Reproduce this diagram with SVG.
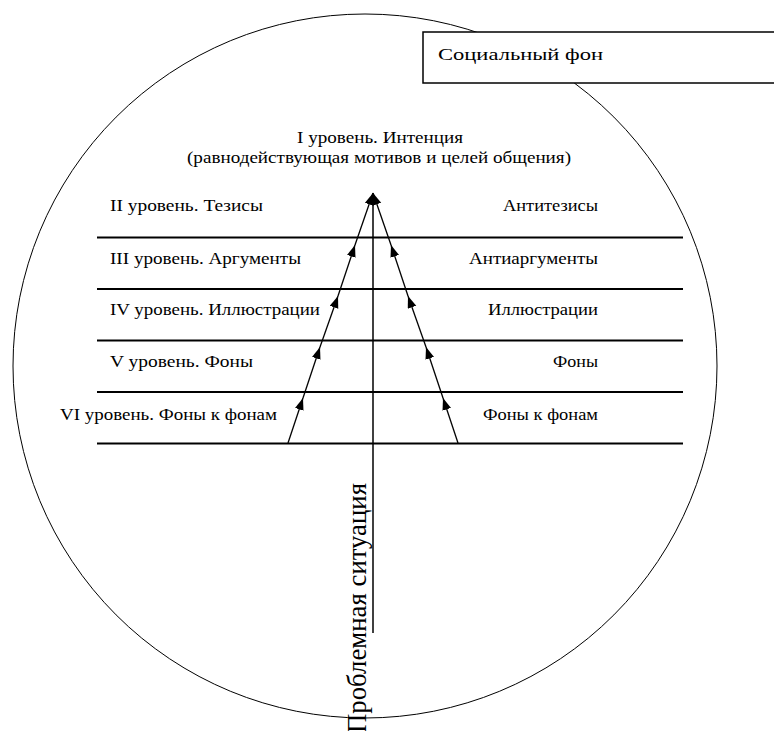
<svg xmlns="http://www.w3.org/2000/svg" width="774" height="731" viewBox="0 0 774 731">
<style>
.t{font-family:"Liberation Serif","Times New Roman",serif;font-size:16px;fill:#000}
.h{stroke:#000;stroke-width:2;fill:none}
.a{stroke:#000;stroke-width:1.3;fill:none;marker-end:url(#ah)}
</style>
<defs>
<marker id="ah" markerUnits="userSpaceOnUse" markerWidth="13" markerHeight="10" refX="12" refY="4.5" orient="auto">
<path d="M0,0 L12,4.5 L0,9 z" fill="#000"/>
</marker>
</defs>
<rect width="774" height="731" fill="#fff"/>
<g id="background">
<circle cx="365" cy="366" r="352" fill="none" stroke="#000" stroke-width="1"/>
</g>
<g id="social">
<rect x="423" y="32" width="360" height="51" fill="#fff" stroke="#000" stroke-width="1.5"/>
<text class="t" x="438" y="60" textLength="165" lengthAdjust="spacingAndGlyphs">Социальный фон</text>
</g>
<g id="levels">
<line class="h" x1="97" y1="237.5" x2="683" y2="237.5"/>
<line class="h" x1="97" y1="289" x2="683" y2="289"/>
<line class="h" x1="97" y1="340.5" x2="683" y2="340.5"/>
<line class="h" x1="97" y1="392" x2="683" y2="392"/>
<line class="h" x1="97" y1="443.5" x2="683" y2="443.5"/>
</g>
<g id="level1">
<text class="t" x="297" y="143" textLength="166" lengthAdjust="spacingAndGlyphs">I уровень. Интенция</text>
<text class="t" x="187" y="163" textLength="384" lengthAdjust="spacingAndGlyphs">(равнодействующая мотивов и целей общения)</text>
</g>
<g id="left-labels">
<text class="t" x="110" y="211" textLength="153" lengthAdjust="spacingAndGlyphs">II уровень. Тезисы</text>
<text class="t" x="110" y="264" textLength="191" lengthAdjust="spacingAndGlyphs">III уровень. Аргументы</text>
<text class="t" x="110" y="315" textLength="210" lengthAdjust="spacingAndGlyphs">IV уровень. Иллюстрации</text>
<text class="t" x="110" y="367" textLength="143" lengthAdjust="spacingAndGlyphs">V уровень. Фоны</text>
<text class="t" x="60" y="420" textLength="217" lengthAdjust="spacingAndGlyphs">VI уровень. Фоны к фонам</text>
</g>
<g id="right-labels">
<text class="t" x="503" y="211" textLength="95" lengthAdjust="spacingAndGlyphs">Антитезисы</text>
<text class="t" x="469" y="264" textLength="129" lengthAdjust="spacingAndGlyphs">Антиаргументы</text>
<text class="t" x="488" y="315" textLength="110" lengthAdjust="spacingAndGlyphs">Иллюстрации</text>
<text class="t" x="553" y="367" textLength="45" lengthAdjust="spacingAndGlyphs">Фоны</text>
<text class="t" x="483" y="420" textLength="115" lengthAdjust="spacingAndGlyphs">Фоны к фонам</text>
</g>
<g id="axis">
<line x1="373" y1="200" x2="373" y2="633" stroke="#000" stroke-width="1.5"/>
<text x="0" y="0" transform="translate(366,733) rotate(-90)" font-family="Liberation Serif,Times New Roman,serif" font-size="28" textLength="250" lengthAdjust="spacingAndGlyphs">Проблемная ситуация</text>
</g>
<g id="connectors">
<line class="a" x1="288" y1="443" x2="303" y2="398"/>
<line class="a" x1="303" y1="398" x2="320" y2="347"/>
<line class="a" x1="320" y1="347" x2="338" y2="296"/>
<line class="a" x1="338" y1="296" x2="355" y2="245"/>
<line class="a" x1="355" y1="245" x2="373" y2="193"/>
<line class="a" x1="458" y1="443" x2="443" y2="398"/>
<line class="a" x1="443" y1="398" x2="426" y2="347"/>
<line class="a" x1="426" y1="347" x2="408" y2="296"/>
<line class="a" x1="408" y1="296" x2="391" y2="245"/>
<line class="a" x1="391" y1="245" x2="373" y2="193"/>
</g>
</svg>
